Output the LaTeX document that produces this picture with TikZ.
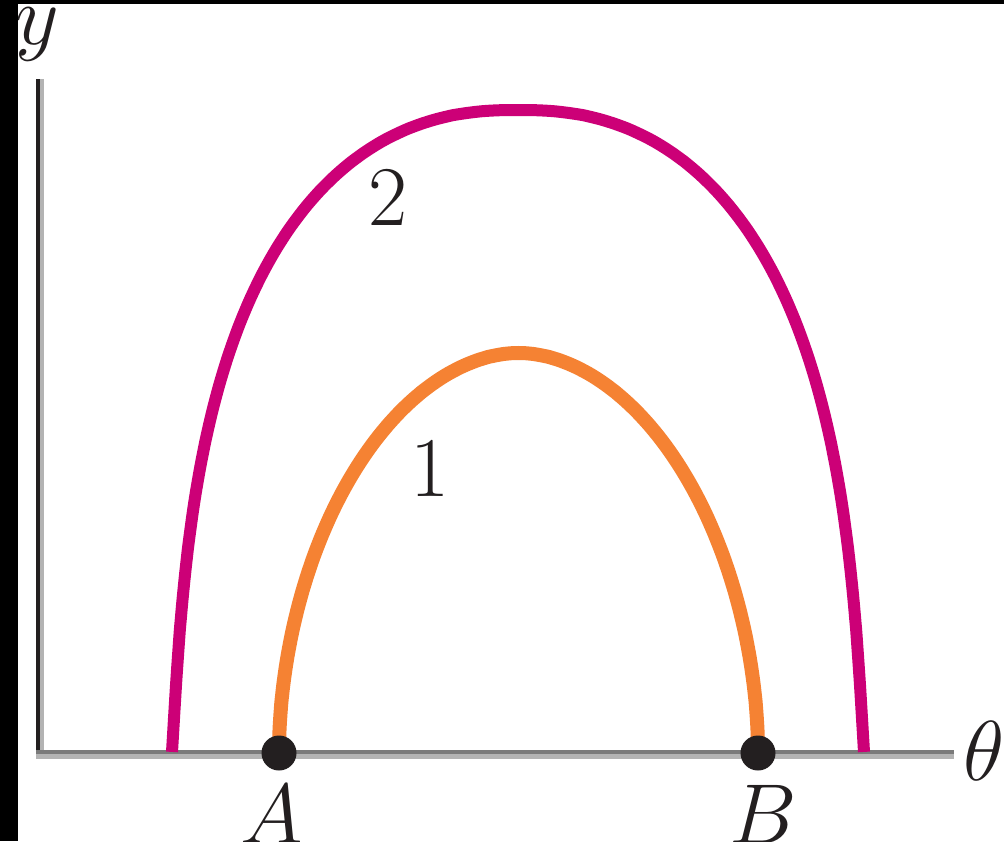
\RequirePackage{fix-cm}
\documentclass[tikz,border=0pt]{standalone}
\usepackage{fontspec}
\definecolor{magentaC}{HTML}{CC0077}
\definecolor{orangeC}{HTML}{F58233}
\definecolor{axisdark}{HTML}{231F20}
\definecolor{axisgray}{HTML}{7A7A7A}
\definecolor{axislight}{HTML}{B3B3B3}
\tikzset{
  lbl/.style={inner sep=0pt, font=\fontsize{85}{95}\selectfont, text=axisdark},
  dotpt/.style={circle, fill=axisdark, inner sep=0pt, minimum size=35pt},
  curvetwo/.style={draw=magentaC, line width=12pt},
  curveone/.style={draw=orangeC, line width=14pt},
  declare function={hu(\t)=pow(abs(sin(\t))+0.00001,0.851);
                    hc(\t)=pow(abs(cos(\t))+0.00001,0.851);},
}
\begin{document}
\begin{tikzpicture}[x=1pt,y=-1pt]
\useasboundingbox (0,0) rectangle (1004,841);
\fill[white] (0,0) rectangle (1004,841);
% axes
\draw[axisdark, line width=4pt] (38,79) -- (38,754);
\draw[axislight, line width=4pt] (42,79) -- (42,754);
\draw[axislight, line width=5pt] (36,756.5) -- (954,756.5);
\draw[axisgray, line width=4pt] (36,752) -- (954,752);
% curve 2 (superellipse with slight inward lean of the legs)
\draw[curvetwo] plot[domain=180:0, samples=181, smooth]
  ({518 + sign(cos(\x))*(346*hc(\x) - 40*hu(\x)*pow(1-hu(\x),2))},
   {752 - 642*hu(\x)});
% curve 1
\coordinate (a0) at (279,753);
\coordinate (b0) at (758,753);
\draw[curveone] plot[domain=180:0, samples=181, smooth]
  ({518.5 + 239.5*sign(cos(\x))*pow(abs(cos(\x))+0.00001,1.05)},
   {753 - 400*pow(abs(sin(\x))+0.00001,1.05)});
\node[dotpt] (A) at (a0) {};
\node[dotpt] (B) at (b0) {};
% labels
\node[lbl] (l2) at (388,197) {2};
\node[lbl] (l1) at (430,468) {1};
\node[lbl, anchor=base] (lA) at (272,843) {$A$};
\node[lbl, anchor=base] (lB) at (763,843) {$B$};
\node[lbl, anchor=base west] (lt) at (963,780) {$\theta$};
\node[lbl, anchor=base] (ly) at (37,44) {$y$};
% black frame strips
\fill[black] (0,0) rectangle (18,841);
\fill[black] (0,0) rectangle (1004,4);
\end{tikzpicture}
\end{document}
